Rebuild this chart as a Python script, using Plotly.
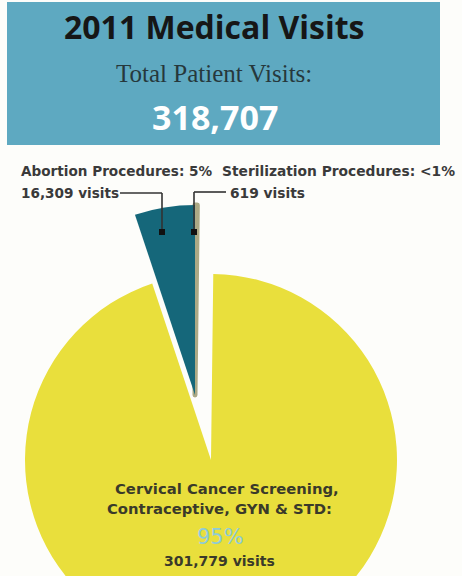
import plotly.graph_objects as go

# ---- data ----
labels = ["Sterilization Procedures", "Abortion Procedures",
          "Cervical Cancer Screening, Contraceptive, GYN & STD"]
visits = [619, 16309, 301779]
total_visits = 318707
title_text = "2011 Medical Visits"
subtitle_text = "Total Patient Visits:"

W, H = 462, 660
YELLOW = "#e9df3c"
TEAL = "#15677a"
TAN = "#aca985"
CLEAR = "rgba(0,0,0,0)"
HEADER = "#5ea9c1"
LABEL = "#3a3a3a"


def px(x):
    return x / W


def py(y):
    return 1 - y / H


fig = go.Figure()

# main (unpulled) pie: only the large slice visible
fig.add_trace(go.Pie(
    labels=labels, values=visits, sort=False, direction="counterclockwise",
    rotation=0, textinfo="none", hoverinfo="label+value+percent",
    marker=dict(colors=[CLEAR, CLEAR, YELLOW], line=dict(width=0)),
    domain=dict(x=[px(25), px(397)], y=[py(646), py(274)]),
    showlegend=False,
))

# exploded slices: same data, only the two small slices visible
fig.add_trace(go.Pie(
    labels=labels, values=visits, sort=False, direction="counterclockwise",
    rotation=0, textinfo="none", hoverinfo="label+value+percent",
    marker=dict(colors=[TAN, TEAL, CLEAR],
                line=dict(color=[TAN, TEAL, CLEAR], width=[5, 0, 0])),
    domain=dict(x=[px(5), px(385)], y=[py(585), py(205)]),
    showlegend=False,
))

shapes = []
# header box
shapes.append(dict(type="rect", xref="paper", yref="paper",
                   x0=px(7), x1=px(440), y0=py(145), y1=py(2),
                   fillcolor=HEADER, line=dict(width=0), layer="below"))
# leader lines
lc = dict(color="#333333", width=1.6)
for (x0, y0, x1, y1) in [(120, 193, 162, 193), (162, 193, 162, 232),
                         (226, 192, 194, 192), (194, 192, 194, 232)]:
    shapes.append(dict(type="line", xref="paper", yref="paper",
                       x0=px(x0), y0=py(y0), x1=px(x1), y1=py(y1), line=lc))
for cx in (162, 194):
    shapes.append(dict(type="rect", xref="paper", yref="paper",
                       x0=px(cx - 3), x1=px(cx + 3), y0=py(235), y1=py(229),
                       fillcolor="#111111", line=dict(width=0)))

ann = []


def add(text, x, y, size, color, family, xanchor="center", bold=False):
    t = f"<b>{text}</b>" if bold else text
    ann.append(dict(text=t, x=px(x), y=py(y), xref="paper", yref="paper",
                    xanchor=xanchor, yanchor="middle", showarrow=False,
                    font=dict(size=size, color=color, family=family)))


add(title_text, 214, 26, 32, "#161616", "Open Sans", bold=True)
add(subtitle_text, 214, 73, 25, "#26383c", "Liberation Serif")
add(f"{total_visits:,}", 215, 117, 34, "#ffffff", "Open Sans", bold=True)

pct = [v / total_visits * 100 for v in visits]
add(f"Abortion Procedures: {pct[1]:.0f}%", 19, 171, 13.6, LABEL, "DejaVu Sans", "left", True)
add(f"{visits[1]:,} visits", 19, 193, 13.6, LABEL, "DejaVu Sans", "left", True)
add("Sterilization Procedures: <1%", 220, 171, 13.8, LABEL, "DejaVu Sans", "left", True)
add(f"{visits[0]:,} visits", 228, 193, 13.8, LABEL, "DejaVu Sans", "left", True)

add("Cervical Cancer Screening,", 227, 488, 14.8, "#3a3a2a", "DejaVu Sans", bold=True)
add("Contraceptive, GYN &amp; STD:", 219, 508, 14.8, "#3a3a2a", "DejaVu Sans", bold=True)
add(f"{pct[2]:.0f}%", 220, 537, 21, "#8ecbd8", "DejaVu Sans")
add(f"{visits[2]:,} visits", 219, 561, 14, "#3a3a2a", "DejaVu Sans", bold=True)

fig.update_layout(
    width=W, height=H, margin=dict(l=0, r=0, t=0, b=0),
    paper_bgcolor="#fdfdfa", plot_bgcolor="#fdfdfa",
    shapes=shapes, annotations=ann, showlegend=False,
)

fig.write_html("out.html", config={"displayModeBar": False},
               post_script="document.body.style.margin='0';"
                           "document.body.style.overflow='hidden';")
